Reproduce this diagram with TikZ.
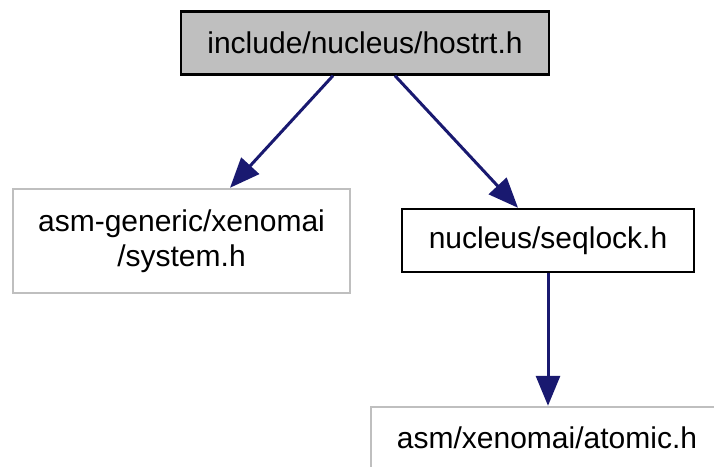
\documentclass[tikz,border=0pt]{standalone}
\usepackage{fontspec}
\setmainfont{Liberation Sans}
\usetikzlibrary{arrows.meta}
\definecolor{edgeblue}{HTML}{191970}
\definecolor{boxgray}{HTML}{BFBFBF}
\begin{document}
\begin{tikzpicture}[x=1pt,y=-1pt,
  filebox/.style={draw=black,line width=2.4pt,rectangle,inner sep=0pt,align=center,
    font=\fontsize{30}{35}\selectfont},
  graybox/.style={filebox,draw=boxgray},
  dep/.style={draw=edgeblue,line width=3pt,-{Triangle[length=30pt,width=24pt]}}]
\clip (0,0) rectangle (714,466);
\fill[white] (0,0) rectangle (714,466);
\node[filebox,fill=boxgray,minimum width=368pt,minimum height=63pt] (top) at (365,43) {include/nucleus/hostrt.h};
\node[graybox,minimum width=337pt,minimum height=104pt] (sys) at (181.5,241) {asm-generic/xenomai\\/system.h};
\node[filebox,minimum width=292pt,minimum height=63pt] (seq) at (548,240.5) {nucleus/seqlock.h};
\node[graybox,minimum width=352pt,minimum height=62pt] (atom) at (547,438) {asm/xenomai/atomic.h};
\draw[dep] ([xshift=-32pt]top.south) -- ([xshift=48.5pt]sys.north);
\draw[dep] ([xshift=30pt]top.south) -- ([xshift=-30pt]seq.north);
\draw[dep] (seq.south) -- (atom.north -| seq.south);
\end{tikzpicture}
\end{document}
